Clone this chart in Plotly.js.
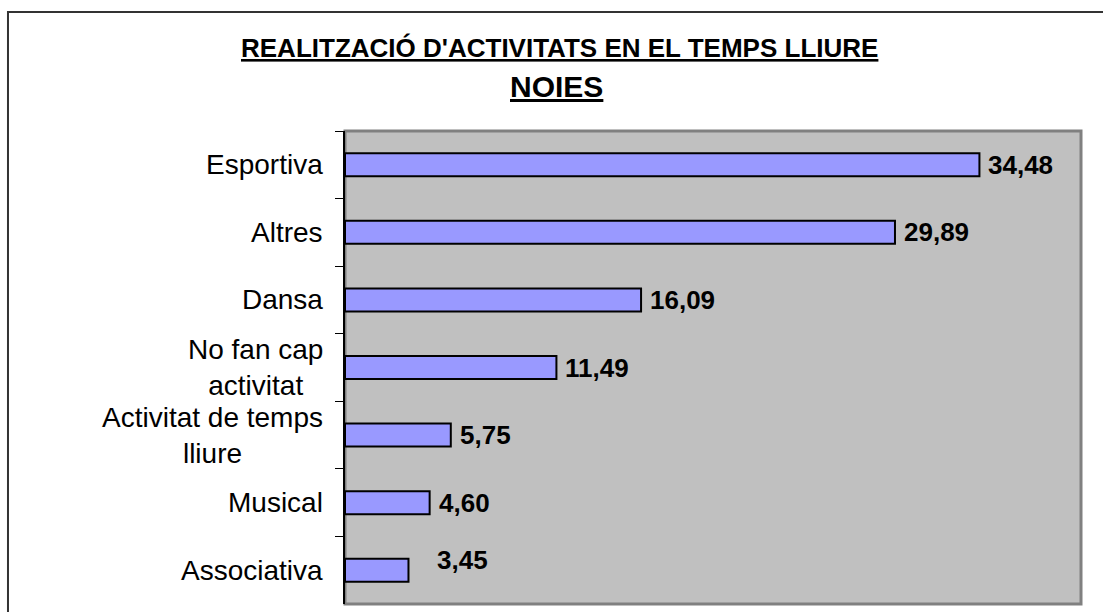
<!DOCTYPE html>
<html>
<head>
<meta charset="utf-8">
<script src="https://cdn.plot.ly/plotly-3.0.1.min.js"></script>
<style>html,body{margin:0;padding:0;background:#fff;}#chart{width:1103px;height:612px;}</style>
</head>
<body>
<div id="chart"></div>
<script>
// Data (top to bottom)
const categories = ["Esportiva", "Altres", "Dansa", "No fan cap activitat", "Activitat de temps lliure", "Musical", "Associativa"];
const categoryLabels = ["Esportiva", "Altres", "Dansa", "No fan cap<br>activitat", "Activitat de temps<br>lliure", "Musical", "Associativa"];
const values = [34.48, 29.89, 16.09, 11.49, 5.75, 4.60, 3.45];
const titleLine1 = "REALITZACIÓ D'ACTIVITATS EN EL TEMPS LLIURE";
const titleLine2 = "NOIES";

const FONT = "'Liberation Sans', Arial, Helvetica, sans-serif";

// Per-label nudges (style only), as in the original where one label is displaced
const labelShiftX = {"Associativa": 20};
const labelShiftY = {"Associativa": 10};

const trace = {
  type: "bar",
  orientation: "h",
  x: values,
  y: categories,
  width: 0.34,
  marker: {color: "#9999FF", line: {color: "#000000", width: 2}},
  hoverinfo: "skip"
};

const annotations = [];
// Title
annotations.push({xref: "paper", yref: "paper", x: 0.292, y: 1.1755, xanchor: "center", yanchor: "middle",
  text: "<b>" + titleLine1 + "</b>", showarrow: false,
  font: {family: FONT, size: 26, color: "#000", lineposition: "under"}});
annotations.push({xref: "paper", yref: "paper", x: 0.288, y: 1.0951, xanchor: "center", yanchor: "middle",
  text: "<b>" + titleLine2 + "</b>", showarrow: false,
  font: {family: FONT, size: 30, color: "#000", lineposition: "under"}});
// Category labels
categories.forEach((c, i) => {
  annotations.push({xref: "paper", yref: "y", x: 0, y: c, xanchor: "right", yanchor: "middle",
    xshift: -20, align: "center", text: categoryLabels[i], showarrow: false,
    font: {family: FONT, size: 28, color: "#000"}});
});
// Value labels
categories.forEach((c, i) => {
  annotations.push({xref: "x", yref: "y", x: values[i], y: c, xanchor: "left", yanchor: "middle",
    xshift: 7 + (labelShiftX[c] || 0), yshift: (labelShiftY[c] || 0),
    text: "<b>" + values[i].toFixed(2).replace(".", ",") + "</b>", showarrow: false,
    font: {family: FONT, size: 26, color: "#000"}});
});

const layout = {
  width: 1103, height: 612,
  margin: {l: 345, r: 22, t: 131, b: 8, pad: 0},
  paper_bgcolor: "#ffffff",
  plot_bgcolor: "#C0C0C0",
  showlegend: false,
  bargap: 0,
  xaxis: {range: [0, 40], showgrid: false, zeroline: false, showticklabels: false, ticks: "", showline: false, fixedrange: true},
  yaxis: {type: "category", categoryorder: "array", categoryarray: categories, autorange: "reversed",
    showgrid: false, zeroline: false, showticklabels: false,
    ticks: "outside", tickson: "boundaries", ticklen: 8, tickwidth: 1, tickcolor: "#000",
    showline: true, linecolor: "#000", linewidth: 2, fixedrange: true},
  shapes: [
    {type: "rect", xref: "paper", yref: "paper", x0: 0, x1: 1, y0: 0, y1: 1, layer: "below",
      line: {color: "#808080", width: 3}, fillcolor: "rgba(0,0,0,0)"},
    {type: "rect", xref: "paper", yref: "paper", x0: -0.4579, x1: 1.06, y0: -0.06, y1: 1.2516,
      line: {color: "#333333", width: 2}, fillcolor: "rgba(0,0,0,0)"}
  ],
  annotations: annotations
};

Plotly.newPlot("chart", [trace], layout, {staticPlot: true, displayModeBar: false});
</script>
</body>
</html>
